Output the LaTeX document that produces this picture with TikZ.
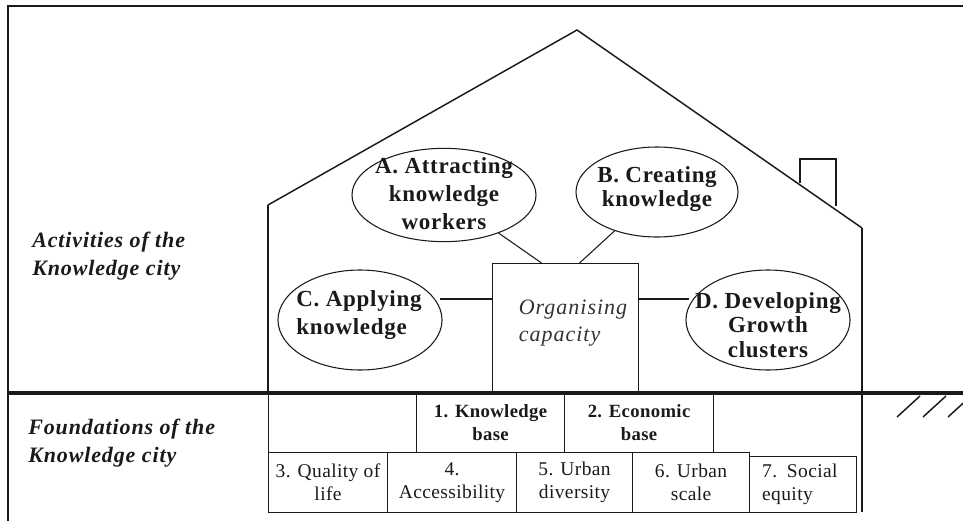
\documentclass[tikz,border=0pt]{standalone}
\usepackage{fontspec}
\setmainfont{Liberation Serif}
\newfontfamily\actfont[LetterSpace=3]{Liberation Serif}
\newfontfamily\sidefont[LetterSpace=4]{Liberation Serif}
\newfontfamily\basefont[LetterSpace=2]{Liberation Serif}
\newfontfamily\orgfont[LetterSpace=4.5]{Liberation Serif}
\usetikzlibrary{shapes.geometric}
\definecolor{ink}{HTML}{1A1A1A}
\definecolor{softink}{HTML}{333333}
\begin{document}
\begin{tikzpicture}[x=0.75pt,y=-0.75pt,
  oval/.style={ellipse,draw=ink,line width=0.8pt,inner sep=0pt},
  acttext/.style={inner sep=0pt,text=ink,
    font=\actfont\bfseries\fontsize{17.25pt}{20.5pt}\selectfont},
  sidetext/.style={inner sep=0pt,anchor=base west,align=left,text=ink,
    font=\sidefont\bfseries\itshape\fontsize{16.5pt}{21pt}\selectfont},
  cell/.style={draw=ink,line width=0.8pt,inner sep=0pt,anchor=north west,
    align=center,text=ink,font=\basefont\fontsize{14.6pt}{17.25pt}\selectfont},
  boldcell/.style={cell,font=\basefont\bfseries\fontsize{14pt}{17.25pt}\selectfont},
  wall/.style={draw=ink,line width=2.2pt},
  thin/.style={draw=ink,line width=0.8pt},
]
\useasboundingbox (0,0) rectangle (963,521);
\clip (0,0) rectangle (963,521);

% page frame
\draw[ink,line width=1.2pt] (8,521) -- (8,6) -- (963,6);

% house outline: roof, walls and chimney
\coordinate (roofL) at (268,205);
\coordinate (apex) at (577,30);
\coordinate (roofR) at (862,228);
\draw[ink,line width=1.1pt] (roofL) -- (apex) -- (roofR);
\draw[ink,line width=1.6pt] (roofL) -- (268,393);
\draw[wall] (roofR) -- (862,512);
\draw[ink,line width=1.1pt] (800,183) -- (800,159) -- (836,159) -- (836,206);

% ground line and hatching
\draw[ink,line width=3.2pt] (8,393) -- (963,393);
\foreach \hx in {897,923,948}
  \draw[ink,line width=1.1pt] (\hx,417) -- (\hx+23,396);

% side captions (anchored on the baseline of their last line)
\node[sidetext] (act) at (32,275) {Activities of the\\Knowledge city};
\node[sidetext] (fnd) at (28,462) {Foundations of the\\Knowledge city};

% organising capacity
\node[thin,minimum width=109.5pt,minimum height=96.75pt,anchor=north west,inner sep=0pt] (org) at (492,263) {};
\node[inner sep=0pt,align=left,text=softink,
  font=\orgfont\itshape\fontsize{16.5pt}{20.25pt}\selectfont] (orgtxt) at (573,323) {Organising\\capacity};

% activities
\node[oval,minimum width=138pt,minimum height=70pt] (A) at (444,195) {};
\node[acttext,align=center,font=\actfont\bfseries\fontsize{17.25pt}{21pt}\selectfont] (At) at (444,194) {A. Attracting\\knowledge\\workers};
\node[oval,minimum width=121.5pt,minimum height=67.5pt] (B) at (657,192) {};
\node[acttext,align=center,font=\actfont\bfseries\fontsize{17.25pt}{18pt}\selectfont] (Bt) at (657,189) {B. Creating\\knowledge};
\node[oval,minimum width=123pt,minimum height=75pt] (C) at (360,320) {};
\node[acttext,align=left] (Ct) at (359,315) {C. Applying\\knowledge};
\node[oval,minimum width=123pt,minimum height=75pt] (D) at (768,320) {};
\node[acttext,align=center,font=\actfont\bfseries\fontsize{17.25pt}{18.4pt}\selectfont] (Dt) at (768,325) {D. Developing\\Growth\\clusters};

% links to the organising capacity
\draw[thin] (A) -- ([xshift=-18pt]org.north);
\draw[thin] (B) -- ([xshift=10.5pt]org.north);
\draw[thin] (org.west |- 0,299) -- (440,299);
\draw[thin] (org.east |- 0,299) -- (689,299);

% foundations, upper row
\node[cell,minimum width=111pt,minimum height=44.25pt] (f0) at (268,393) {};
\node[boldcell,minimum width=111pt,minimum height=44.25pt] (kb) at (416,393) {1. Knowledge\\base};
\node[boldcell,minimum width=111.75pt,minimum height=44.25pt] (eb) at (564,393) {2. Economic\\base};

% foundations, lower row
\node[cell,minimum width=89.25pt,minimum height=45pt] (ql) at (268,452) {3. Quality of\\life};
\node[cell,minimum width=96.75pt,minimum height=45pt] (ac) at (387,452) {4.\\Accessibility};
\node[cell,minimum width=87pt,minimum height=45pt] (ud) at (516,452) {5. Urban\\diversity};
\node[cell,minimum width=87.75pt,minimum height=45pt] (us) at (632,452) {6. Urban\\scale};
\node[cell,minimum height=42pt,align=left,inner xsep=9.5pt,text width=61.25pt] (se) at (749,456) {7. Social\\equity};
\end{tikzpicture}
\end{document}
